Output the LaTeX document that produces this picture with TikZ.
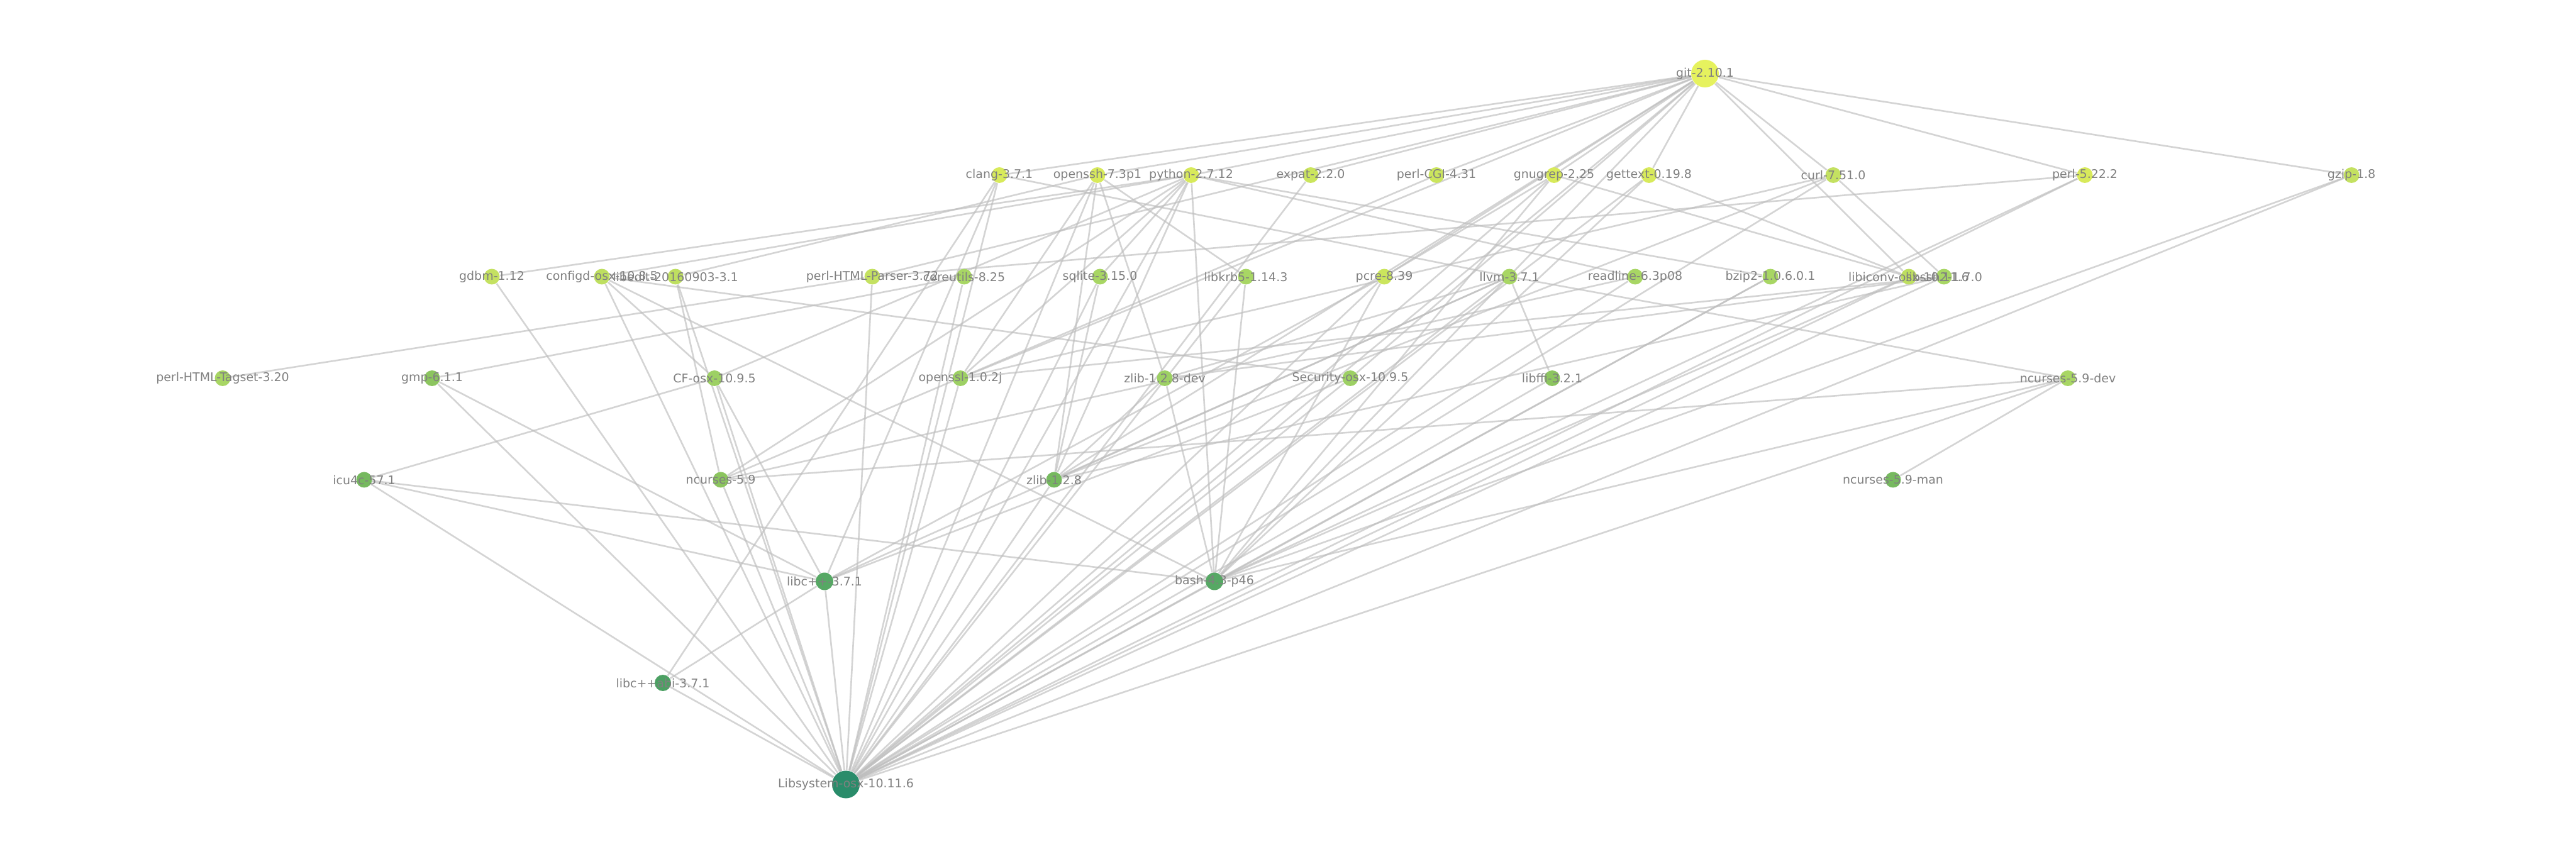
\documentclass[tikz,border=0pt]{standalone}
\usepackage{fontspec}
\setmainfont{DejaVu Sans}
\usepackage{tikz}
\usetikzlibrary{backgrounds}

\definecolor{shadeA}{HTML}{E6F25E}
\definecolor{shadeB}{HTML}{D8EA5B}
\definecolor{shadeC}{HTML}{CBE55D}
\definecolor{shadeD}{HTML}{C4E161}
\definecolor{shadeE}{HTML}{BEDF60}
\definecolor{shadeF}{HTML}{A8D664}
\definecolor{shadeG}{HTML}{9DD064}
\definecolor{shadeH}{HTML}{8CC55F}
\definecolor{shadeI}{HTML}{76B95F}
\definecolor{shadeJ}{HTML}{56A864}
\definecolor{shadeK}{HTML}{4CA063}
\definecolor{shadeL}{HTML}{2A8C6A}
\definecolor{edgegray}{HTML}{BDBDBD}

% packages: name/x/y/colour/size/label
\def\pkgs{
  git/27.11/12.48/shadeA/0.44/git-2.10.1,
  clang/15.89/10.865/shadeB/0.25/clang-3.7.1,
  openssh/17.45/10.865/shadeB/0.25/openssh-7.3p1,
  python/18.94/10.865/shadeB/0.25/python-2.7.12,
  expat/20.84/10.865/shadeC/0.25/expat-2.2.0,
  cgi/22.84/10.865/shadeC/0.25/perl-CGI-4.31,
  gnugrep/24.71/10.865/shadeB/0.25/gnugrep-2.25,
  gettext/26.22/10.865/shadeB/0.25/gettext-0.19.8,
  curl/29.15/10.865/shadeD/0.25/curl-7.51.0,
  perl/33.15/10.865/shadeB/0.25/perl-5.22.2,
  gzip/37.39/10.865/shadeD/0.25/gzip-1.8,
  gdbm/7.82/9.25/shadeD/0.25/gdbm-1.12,
  configd/9.57/9.25/shadeE/0.25/configd-osx-10.8.5,
  libedit/10.74/9.25/shadeE/0.25/libedit-20160903-3.1,
  htmlparser/13.87/9.25/shadeD/0.25/perl-HTML-Parser-3.72,
  coreutils/15.33/9.25/shadeF/0.25/coreutils-8.25,
  sqlite/17.49/9.25/shadeF/0.25/sqlite-3.15.0,
  libkrb/19.81/9.25/shadeF/0.25/libkrb5-1.14.3,
  pcre/22.01/9.25/shadeC/0.25/pcre-8.39,
  llvm/24.00/9.25/shadeF/0.25/llvm-3.7.1,
  readline/26.00/9.25/shadeF/0.25/readline-6.3p08,
  bzip/28.15/9.25/shadeF/0.25/bzip2-1.0.6.0.1,
  libiconv/30.35/9.25/shadeE/0.25/libiconv-osx-10.11.6,
  libssh/30.91/9.25/shadeF/0.25/libssh2-1.7.0,
  tagset/3.54/7.635/shadeF/0.25/perl-HTML-Tagset-3.20,
  gmp/6.87/7.635/shadeH/0.25/gmp-6.1.1,
  cf/11.36/7.635/shadeG/0.25/CF-osx-10.9.5,
  openssl/15.27/7.635/shadeG/0.25/openssl-1.0.2j,
  zlibdev/18.52/7.635/shadeG/0.25/zlib-1.2.8-dev,
  security/21.47/7.635/shadeG/0.25/Security-osx-10.9.5,
  libffi/24.68/7.635/shadeH/0.25/libffi-3.2.1,
  ncursesdev/32.88/7.635/shadeF/0.25/ncurses-5.9-dev,
  icu/5.79/6.02/shadeI/0.25/icu4c-57.1,
  ncurses/11.46/6.02/shadeH/0.25/ncurses-5.9,
  zlib/16.76/6.02/shadeI/0.25/zlib-1.2.8,
  ncursesman/30.10/6.02/shadeI/0.25/ncurses-5.9-man,
  libcxx/13.11/4.405/shadeJ/0.28/libc++-3.7.1,
  bash/19.31/4.405/shadeJ/0.28/bash-4.3-p46,
  libcxxabi/10.54/2.79/shadeK/0.26/libc++abi-3.7.1,
  libsystem/13.45/1.175/shadeL/0.44/Libsystem-osx-10.11.6%
}

\begin{document}
\begin{tikzpicture}[
  pkg/.style={circle, draw=none, inner sep=0pt},
  pkgname/.style={font=\fontsize{5.4}{6.5}\selectfont, text=gray, inner sep=0pt},
  dep/.style={draw=edgegray, line width=0.75pt, opacity=0.65}
]
  \useasboundingbox (0,0) rectangle (40.96,13.65);

  % Package dots
  \foreach \n/\x/\y/\c/\s/\t in \pkgs {
    \node[pkg, fill=\c, minimum size=\s cm] (\n) at (\x,\y) {};
  }

  % Names on top of the dots
  \foreach \n/\x/\y/\c/\s/\t in \pkgs {
    \node[pkgname] (\n-name) at (\n) {\t};
  }

  % Dependencies
  \begin{scope}[on background layer]
    \foreach \a/\b in {git/clang, git/openssh, git/python, git/expat, git/cgi,
      git/gnugrep, git/gettext, git/curl, git/perl, git/gzip, git/libiconv,
      git/htmlparser, git/pcre, git/security, git/bash, git/libsystem,
      git/zlib, git/openssl}
      \draw[dep] (\a) -- (\b);
    \foreach \a/\b in {clang/llvm, clang/libcxx, clang/libcxxabi, clang/libsystem,
      openssh/libedit, openssh/libkrb, openssh/openssl, openssh/zlib,
      openssh/zlibdev, openssh/libsystem,
      python/gdbm, python/configd, python/cf, python/ncurses, python/openssl,
      python/sqlite, python/zlib, python/libsystem, python/bash,
      python/readline, python/bzip,
      expat/libsystem, cgi/ncurses,
      gnugrep/pcre, gnugrep/libsystem, gnugrep/bash, gnugrep/libiconv,
      gettext/libiconv, gettext/bash, gettext/libsystem,
      curl/libssh, curl/openssl, curl/libsystem, curl/zlib,
      perl/htmlparser, perl/libsystem, perl/bash,
      gzip/bash, gzip/libsystem}
      \draw[dep] (\a) -- (\b);
    \foreach \a/\b in {gdbm/libsystem, configd/cf, configd/libsystem,
      configd/bash, configd/security, libedit/ncurses, libedit/libsystem,
      htmlparser/tagset, htmlparser/libsystem, coreutils/gmp,
      coreutils/libsystem, sqlite/libsystem, sqlite/zlib, libkrb/bash,
      libkrb/libsystem, pcre/bash, pcre/libsystem, pcre/libcxx,
      llvm/libffi, llvm/ncursesdev, llvm/zlibdev, llvm/zlib, llvm/libcxx,
      llvm/libsystem, readline/ncurses, readline/libsystem,
      bzip/libsystem, bzip/bash, libiconv/libsystem, libiconv/bash,
      libssh/openssl, libssh/zlibdev, libssh/zlib, libssh/libsystem}
      \draw[dep] (\a) -- (\b);
    \foreach \a/\b in {gmp/libsystem, gmp/libcxx, cf/icu, cf/libsystem,
      cf/libcxx, openssl/libsystem, zlibdev/zlib, zlibdev/bash,
      security/libsystem, security/libcxx, libffi/libsystem,
      ncursesdev/ncurses, ncursesdev/ncursesman, ncursesdev/libsystem,
      ncursesdev/bash, icu/libcxx, icu/libsystem, icu/bash,
      ncurses/libsystem, zlib/libsystem, libcxx/libcxxabi,
      libcxx/libsystem, bash/libsystem, libcxxabi/libsystem}
      \draw[dep] (\a) -- (\b);
  \end{scope}
\end{tikzpicture}
\end{document}
